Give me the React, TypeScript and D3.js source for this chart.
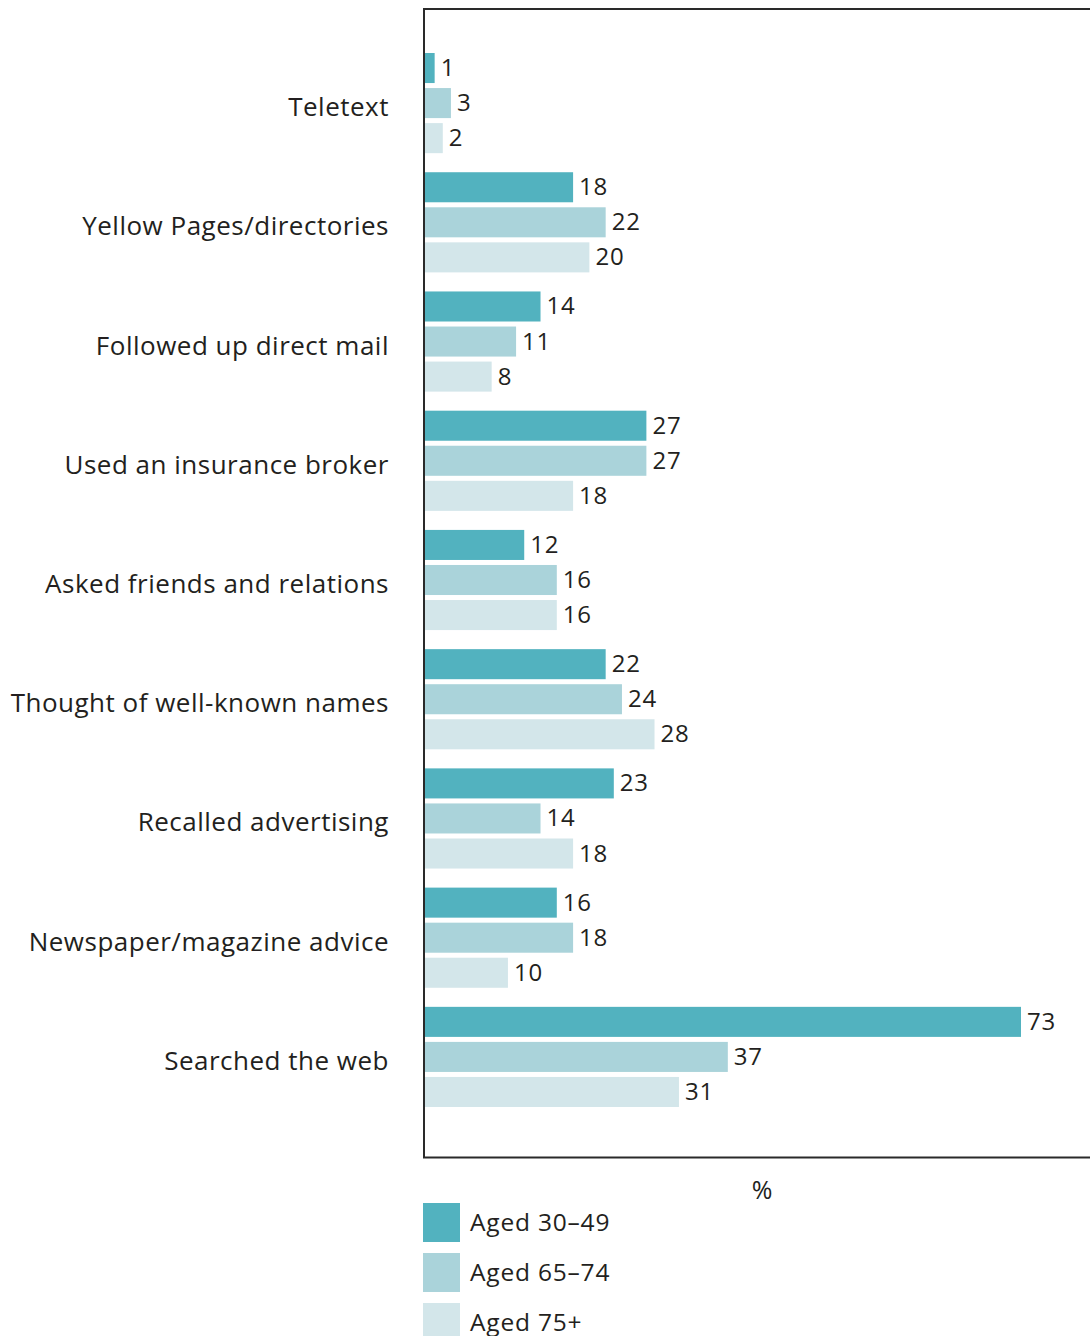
import { useEffect, useRef } from 'react';
import * as d3 from 'd3';

const categories = [
  'Teletext',
  'Yellow Pages/directories',
  'Followed up direct mail',
  'Used an insurance broker',
  'Asked friends and relations',
  'Thought of well-known names',
  'Recalled advertising',
  'Newspaper/magazine advice',
  'Searched the web',
];

const seriesNames = ['Aged 30–49', 'Aged 65–74', 'Aged 75+'];
const seriesColors = ['#52b2bf', '#aad3da', '#d3e6ea'];

const aged30to49 = [1, 18, 14, 27, 12, 22, 23, 16, 73];
const aged65to74 = [3, 22, 11, 27, 16, 24, 14, 18, 37];
const aged75plus = [2, 20, 8, 18, 16, 28, 18, 10, 31];

const seriesValues = [aged30to49, aged65to74, aged75plus];

const WIDTH = 1090;
const HEIGHT = 1336;
const FONT = '"Open Sans", "Noto Sans", sans-serif';
const TEXT = '#231f20';

export default function App() {
  const svgRef = useRef<SVGSVGElement>(null);

  useEffect(() => {
    if (!svgRef.current) return;
    const svg = d3.select(svgRef.current);
    svg.selectAll('*').remove();

    const frameLeft = 424;
    const frameTop = 9;
    const frameBottom = 1157.5;

    const x = d3.scaleLinear().domain([0, 73]).range([426.5, 1021]);

    const y0 = d3
      .scaleBand<string>()
      .domain(categories)
      .range([53, 1107])
      .paddingInner(0.16)
      .paddingOuter(0);

    const y1 = d3
      .scaleBand<string>()
      .domain(seriesNames)
      .range([0, y0.bandwidth()])
      .paddingInner(0.143);

    // bars
    categories.forEach((cat, ci) => {
      const g = svg.append('g').attr('transform', `translate(0, ${y0(cat)})`);
      seriesNames.forEach((s, si) => {
        const v = seriesValues[si][ci];
        const by = y1(s) ?? 0;
        g.append('rect')
          .attr('x', frameLeft)
          .attr('y', by)
          .attr('width', x(v) - frameLeft)
          .attr('height', y1.bandwidth())
          .attr('fill', seriesColors[si]);
        g.append('text')
          .attr('x', x(v) + 6)
          .attr('y', by + y1.bandwidth() / 2 + 8)
          .attr('font-family', FONT)
          .attr('font-size', 24)
          .attr('letter-spacing', 0.8)
          .attr('fill', TEXT)
          .text(v);
      });

      // category label
      svg
        .append('text')
        .attr('x', 389)
        .attr('y', (y0(cat) ?? 0) + y0.bandwidth() / 2 + 13)
        .attr('text-anchor', 'end')
        .attr('font-family', FONT)
        .attr('font-size', 26)
        .attr('letter-spacing', 0.5)
        .attr('fill', TEXT)
        .text(cat);
    });

    // frame (left, top, bottom)
    svg
      .append('path')
      .attr('d', `M${WIDTH + 2},${frameTop} H${frameLeft} V${frameBottom} H${WIDTH + 2}`)
      .attr('fill', 'none')
      .attr('stroke', '#2a2a2a')
      .attr('stroke-width', 2);

    // axis unit
    svg
      .append('text')
      .attr('x', 762)
      .attr('y', 1199)
      .attr('text-anchor', 'middle')
      .attr('font-family', FONT)
      .attr('font-size', 25)
      .attr('fill', TEXT)
      .text('%');

    // legend
    const legend = svg.append('g').attr('transform', `translate(${frameLeft - 1}, 1203)`);
    seriesNames.forEach((s, i) => {
      const item = legend.append('g').attr('transform', `translate(0, ${i * 50})`);
      item.append('rect').attr('width', 37).attr('height', 39).attr('fill', seriesColors[i]);
      item
        .append('text')
        .attr('x', 47)
        .attr('y', 28)
        .attr('font-family', FONT)
        .attr('font-size', 24.5)
        .attr('letter-spacing', 0.8)
        .attr('fill', TEXT)
        .text(s);
    });
  }, []);

  return (
    <div style={{ position: 'absolute', left: 0, top: 0 }}>
      <svg ref={svgRef} width={WIDTH} height={HEIGHT} style={{ display: 'block', background: '#fff' }} />
    </div>
  );
}
